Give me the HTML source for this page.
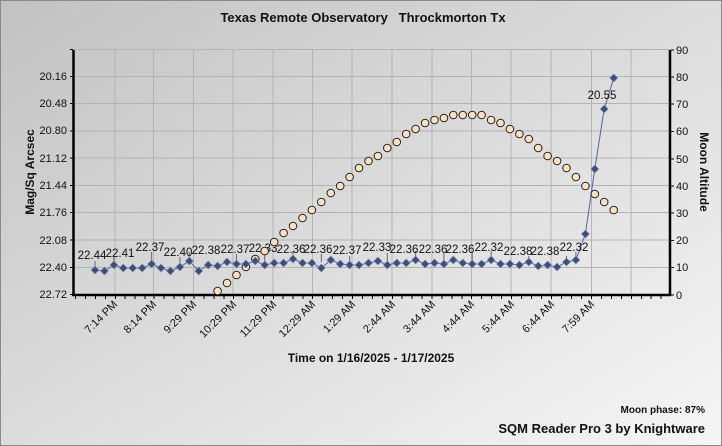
<!DOCTYPE html>
<html><head><meta charset="utf-8"><style>
html,body{margin:0;padding:0;width:722px;height:446px;overflow:hidden;}
svg{display:block;font-family:"Liberation Sans",Arial,sans-serif;}
</style></head><body>
<svg width="722" height="446" viewBox="0 0 722 446" xmlns="http://www.w3.org/2000/svg">
<defs>
<linearGradient id="bg" x1="0" y1="0" x2="1" y2="1">
<stop offset="0" stop-color="#c2c2c2"/><stop offset="1" stop-color="#f6f6f6"/>
</linearGradient>
<path id="d" d="M0,-4 L4,0 L0,4 L-4,0 Z" fill="#3e4e78" stroke="#7f8fb8" stroke-width="0.6"/>
<circle id="c" r="3.8" fill="#fde1bf" stroke="#222" stroke-width="1"/>
</defs>
<rect x="0" y="0" width="722" height="446" fill="url(#bg)"/>
<rect x="0.5" y="0.5" width="721" height="445" fill="none" stroke="#8a8a8a"/>
<text x="363" y="22" text-anchor="middle" font-size="13" font-weight="bold" fill="#111">Texas Remote Observatory&#160;&#160;&#160;Throckmorton Tx</text>
<g stroke="#b4b4b4" stroke-width="1">
<line x1="73" y1="49.5" x2="670" y2="49.5"/><line x1="73" y1="76.5" x2="670" y2="76.5"/><line x1="73" y1="103.5" x2="670" y2="103.5"/><line x1="73" y1="131" x2="670" y2="131"/><line x1="73" y1="158" x2="670" y2="158"/><line x1="73" y1="185.5" x2="670" y2="185.5"/><line x1="73" y1="212.5" x2="670" y2="212.5"/><line x1="73" y1="240" x2="670" y2="240"/><line x1="73" y1="267.5" x2="670" y2="267.5"/>
<line x1="115" y1="50" x2="115" y2="295"/><line x1="153.5" y1="50" x2="153.5" y2="295"/><line x1="193.5" y1="50" x2="193.5" y2="295"/><line x1="233" y1="50" x2="233" y2="295"/><line x1="273" y1="50" x2="273" y2="295"/><line x1="312.5" y1="50" x2="312.5" y2="295"/><line x1="352" y1="50" x2="352" y2="295"/><line x1="392" y1="50" x2="392" y2="295"/><line x1="432" y1="50" x2="432" y2="295"/><line x1="471.5" y1="50" x2="471.5" y2="295"/><line x1="511" y1="50" x2="511" y2="295"/><line x1="551" y1="50" x2="551" y2="295"/><line x1="591.5" y1="50" x2="591.5" y2="295"/><line x1="631" y1="50" x2="631" y2="295"/>
</g>
<g stroke="#000">
<line x1="73.5" y1="50" x2="73.5" y2="296" stroke-width="2.5"/>
<line x1="670" y1="50" x2="670" y2="296" stroke-width="2.5"/>
<line x1="72" y1="295" x2="671" y2="295" stroke-width="2.5"/>
</g>
<g stroke="#000" stroke-width="1">
<path d="M70 49.5h3M70 76.5h3M70 103.5h3M70 131h3M70 158h3M70 185.5h3M70 212.5h3M70 240h3M70 267.5h3M70 294.5h3"/>
<path d="M671 50h3M671 77h3M671 104h3M671 131.5h3M671 159h3M671 186h3M671 213h3M671 240.5h3M671 267.5h3M671 295h3"/>
<path d="M75.5 296v3M85.5 296v3M95.5 296v3M105.5 296v3M115.5 296v3M125 296v3M135 296v3M145 296v3M154 296v3M164 296v3M174 296v3M184 296v3M194 296v3M204 296v3M214 296v3M224 296v3M233.5 296v3M243.5 296v3M253.5 296v3M263.5 296v3M273.5 296v3M283 296v3M293 296v3M303 296v3M312.5 296v3M322.5 296v3M332.5 296v3M342.5 296v3M352.5 296v3M362.5 296v3M372.5 296v3M382.5 296v3M392.5 296v3M402 296v3M412 296v3M422 296v3M432 296v3M442 296v3M452 296v3M462 296v3M471.5 296v3M481.5 296v3M491.5 296v3M501.5 296v3M511.5 296v3M521.5 296v3M531.5 296v3M541.5 296v3M551.5 296v3M561.5 296v3M571.5 296v3M581.5 296v3M591.5 296v3M601.5 296v3M611.5 296v3M621.5 296v3M631.5 296v3M641.5 296v3M651 296v3M661 296v3"/>
</g>
<g font-size="11" fill="#111" text-anchor="end">
<text x="67" y="80">20.16</text><text x="67" y="107">20.48</text><text x="67" y="134">20.80</text><text x="67" y="162">21.12</text><text x="67" y="189">21.44</text><text x="67" y="216">21.76</text><text x="67" y="244">22.08</text><text x="67" y="271">22.40</text><text x="67" y="298">22.72</text>
</g>
<g font-size="11" fill="#111">
<text x="676" y="54">90</text><text x="676" y="81">80</text><text x="676" y="108">70</text><text x="676" y="135">60</text><text x="676" y="163">50</text><text x="676" y="190">40</text><text x="676" y="217">30</text><text x="676" y="244">20</text><text x="676" y="271">10</text><text x="676" y="299">0</text>
</g>
<text transform="translate(34,172) rotate(-90)" text-anchor="middle" font-size="12" font-weight="bold" fill="#111">Mag/Sq Arcsec</text>
<text transform="translate(700,172) rotate(90)" text-anchor="middle" font-size="12" font-weight="bold" fill="#111">Moon Altitude</text>
<g font-size="11" fill="#111" text-anchor="end">
<text transform="translate(118,305) rotate(-45)">7:14 PM</text>
<text transform="translate(157,305) rotate(-45)">8:14 PM</text>
<text transform="translate(197,305) rotate(-45)">9:29 PM</text>
<text transform="translate(237,305) rotate(-45)">10:29 PM</text>
<text transform="translate(277,305) rotate(-45)">11:29 PM</text>
<text transform="translate(316,305) rotate(-45)">12:29 AM</text>
<text transform="translate(356,305) rotate(-45)">1:29 AM</text>
<text transform="translate(396,305) rotate(-45)">2:44 AM</text>
<text transform="translate(436,305) rotate(-45)">3:44 AM</text>
<text transform="translate(475,305) rotate(-45)">4:44 AM</text>
<text transform="translate(515,305) rotate(-45)">5:44 AM</text>
<text transform="translate(555,305) rotate(-45)">6:44 AM</text>
<text transform="translate(595,305) rotate(-45)">7:59 AM</text>
</g>
<text x="371" y="362" text-anchor="middle" font-size="12" font-weight="bold" fill="#111">Time on 1/16/2025 - 1/17/2025</text>
<text x="705" y="413" text-anchor="end" font-size="10" font-weight="bold" fill="#111">Moon phase: 87%</text>
<text x="705" y="433" text-anchor="end" font-size="13" font-weight="bold" fill="#111">SQM Reader Pro 3 by Knightware</text>
<polyline fill="none" stroke="#4f66a8" stroke-width="1" points="95,270 104.4,271 113.9,265 123.3,268 132.7,268 142.2,268 151.6,264 161,268 170.4,271 179.9,267 189.3,261 198.7,271 208.2,265 217.6,266 227,262 236.5,264 245.9,264 255.3,261 264.7,265 274.2,263 283.6,263 293,259 302.5,263 311.9,263 321.3,268 330.8,260 340.2,264 349.6,265 359,265 368.5,263 377.9,261 387.3,265 396.8,263 406.2,263 415.6,260 425.1,264 434.5,263 443.9,264 453.3,260 462.8,263 472.2,264 481.6,264 491.1,260 500.5,264 509.9,264 519.4,265 528.8,262 538.2,266 547.6,265 557.1,267 566.5,262 575.9,260 585.4,234 594.8,169 604.2,109 613.7,78"/>
<g stroke="#666" stroke-width="1">
<path d="M95 261v5M113.9 257v5M151.6 252v8M179.9 257v6M189.3 252v5M236.5 254v6M264.7 254v7M293 251v5M321.3 254v8M349.6 256v5M387.3 253v8M415.6 251v5M443.9 253v7M472.2 253v7M491.1 251v5M528.8 256v4M566.5 256v4M575.9 252v4"/>
</g>
<g font-size="11.5" fill="#111" text-anchor="middle">
<text x="92" y="259">22.44</text><text x="120" y="257">22.41</text><text x="150" y="251">22.37</text><text x="178" y="256">22.40</text><text x="206" y="254">22.38</text><text x="235" y="253">22.37</text><text x="263" y="252">22.33</text><text x="291" y="253">22.36</text><text x="318" y="253">22.36</text><text x="347" y="254">22.37</text><text x="377" y="251">22.33</text><text x="404" y="253">22.36</text><text x="433" y="253">22.36</text><text x="460" y="253">22.36</text><text x="489" y="251">22.32</text><text x="518" y="255">22.38</text><text x="545" y="255">22.38</text><text x="574" y="251">22.32</text><text x="602" y="99">20.55</text>
</g>
<g>
<use href="#c" x="217.6" y="291"/><use href="#c" x="227" y="283"/><use href="#c" x="236.5" y="275"/><use href="#c" x="245.9" y="267"/><use href="#c" x="255.3" y="259"/><use href="#c" x="264.7" y="251"/><use href="#c" x="274.2" y="242"/><use href="#c" x="283.6" y="233"/><use href="#c" x="293" y="226"/><use href="#c" x="302.5" y="218"/><use href="#c" x="311.9" y="210"/><use href="#c" x="321.3" y="202"/><use href="#c" x="330.8" y="193"/><use href="#c" x="340.2" y="186"/><use href="#c" x="349.6" y="177"/><use href="#c" x="359" y="168"/><use href="#c" x="368.5" y="161"/><use href="#c" x="377.9" y="156"/><use href="#c" x="387.3" y="148"/><use href="#c" x="396.8" y="142"/><use href="#c" x="406.2" y="134"/><use href="#c" x="415.6" y="129"/><use href="#c" x="425.1" y="123"/><use href="#c" x="434.5" y="120"/><use href="#c" x="443.9" y="118"/><use href="#c" x="453.3" y="115"/><use href="#c" x="462.8" y="115"/><use href="#c" x="472.2" y="115"/><use href="#c" x="481.6" y="115"/><use href="#c" x="491.1" y="120"/><use href="#c" x="500.5" y="123"/><use href="#c" x="509.9" y="129"/><use href="#c" x="519.4" y="134"/><use href="#c" x="528.8" y="139"/><use href="#c" x="538.2" y="148"/><use href="#c" x="547.6" y="156"/><use href="#c" x="557.1" y="161"/><use href="#c" x="566.5" y="168"/><use href="#c" x="575.9" y="177"/><use href="#c" x="585.4" y="186"/><use href="#c" x="594.8" y="194"/><use href="#c" x="604.2" y="202"/><use href="#c" x="613.7" y="210"/>
</g>
<g>
<use href="#d" x="95" y="270"/><use href="#d" x="104.4" y="271"/><use href="#d" x="113.9" y="265"/><use href="#d" x="123.3" y="268"/><use href="#d" x="132.7" y="268"/><use href="#d" x="142.2" y="268"/><use href="#d" x="151.6" y="264"/><use href="#d" x="161" y="268"/><use href="#d" x="170.4" y="271"/><use href="#d" x="179.9" y="267"/><use href="#d" x="189.3" y="261"/><use href="#d" x="198.7" y="271"/><use href="#d" x="208.2" y="265"/><use href="#d" x="217.6" y="266"/><use href="#d" x="227" y="262"/><use href="#d" x="236.5" y="264"/><use href="#d" x="245.9" y="264"/><use href="#d" x="255.3" y="261"/><use href="#d" x="264.7" y="265"/><use href="#d" x="274.2" y="263"/><use href="#d" x="283.6" y="263"/><use href="#d" x="293" y="259"/><use href="#d" x="302.5" y="263"/><use href="#d" x="311.9" y="263"/><use href="#d" x="321.3" y="268"/><use href="#d" x="330.8" y="260"/><use href="#d" x="340.2" y="264"/><use href="#d" x="349.6" y="265"/><use href="#d" x="359" y="265"/><use href="#d" x="368.5" y="263"/><use href="#d" x="377.9" y="261"/><use href="#d" x="387.3" y="265"/><use href="#d" x="396.8" y="263"/><use href="#d" x="406.2" y="263"/><use href="#d" x="415.6" y="260"/><use href="#d" x="425.1" y="264"/><use href="#d" x="434.5" y="263"/><use href="#d" x="443.9" y="264"/><use href="#d" x="453.3" y="260"/><use href="#d" x="462.8" y="263"/><use href="#d" x="472.2" y="264"/><use href="#d" x="481.6" y="264"/><use href="#d" x="491.1" y="260"/><use href="#d" x="500.5" y="264"/><use href="#d" x="509.9" y="264"/><use href="#d" x="519.4" y="265"/><use href="#d" x="528.8" y="262"/><use href="#d" x="538.2" y="266"/><use href="#d" x="547.6" y="265"/><use href="#d" x="557.1" y="267"/><use href="#d" x="566.5" y="262"/><use href="#d" x="575.9" y="260"/><use href="#d" x="585.4" y="234"/><use href="#d" x="594.8" y="169"/><use href="#d" x="604.2" y="109"/><use href="#d" x="613.7" y="78"/>
</g>
</svg>
</body></html>
